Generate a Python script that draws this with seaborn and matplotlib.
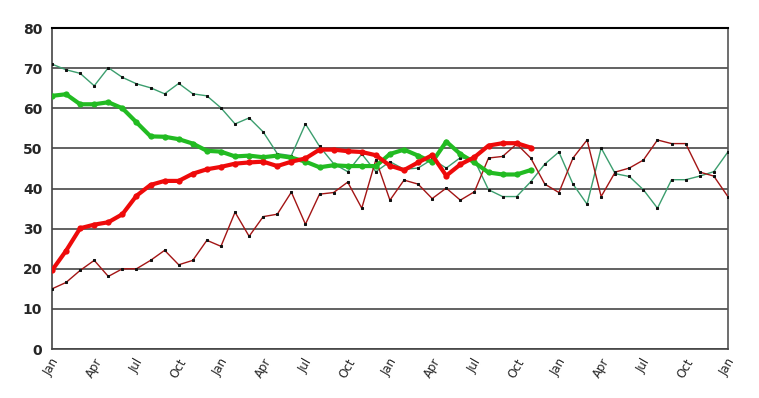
import matplotlib
matplotlib.use("Agg")
import matplotlib.pyplot as plt
import numpy as np
import pandas as pd
import seaborn as sns

# Monthly values, Jan of year 1 through Jan of year 5
green_monthly = [71, 69.6, 68.7, 65.6, 70.1, 67.7, 66.1, 65.1, 63.6, 66.2, 63.6, 63.1,
                 60.1, 56.1, 57.6, 54.1, 48.7, 48.2, 56.1, 50.5, 46.2, 44.2, 48.6, 44.2,
                 46.7, 44.8, 45.1, 47.3, 45.1, 47.7, 47.1, 39.7, 38.0, 38.0, 41.7, 46.1,
                 49.1, 41.1, 36.1, 50.1, 43.7, 43.0, 39.7, 35.1, 42.2, 42.2, 43.1, 44.2, 49.1]
red_monthly = [15.0, 16.6, 19.6, 22.1, 18.1, 20.0, 20.0, 22.1, 24.6, 21.0, 22.1, 27.1,
               25.6, 34.1, 28.1, 33.0, 33.6, 39.1, 31.1, 38.6, 39.0, 41.6, 35.1, 47.2,
               37.1, 42.1, 41.1, 37.5, 40.1, 37.1, 39.2, 47.6, 48.0, 51.1, 47.6, 41.1,
               39.0, 47.6, 52.1, 38.0, 44.1, 45.1, 47.1, 52.1, 51.2, 51.2, 44.1, 43.1, 38.0]

# Smoothed series, Jan of year 1 through Nov of year 3
green_smooth = [63.1, 63.5, 61.0, 61.0, 61.5, 60.0, 56.5, 53.0, 52.9, 52.3, 51.2, 49.4,
                49.2, 48.0, 48.2, 47.8, 48.2, 47.7, 46.7, 45.3, 45.8, 45.6, 45.6, 45.6,
                48.6, 49.7, 48.2, 46.6, 51.7, 48.6, 46.5, 44.0, 43.5, 43.5, 44.6]
red_smooth = [19.6, 24.5, 30.1, 31.0, 31.6, 33.6, 38.2, 40.9, 41.9, 41.9, 43.7, 44.8,
              45.4, 46.2, 46.5, 46.7, 45.6, 46.7, 47.5, 49.7, 49.7, 49.3, 49.1, 48.3,
              45.7, 44.6, 46.5, 48.3, 43.2, 46.0, 47.8, 50.7, 51.3, 51.3, 50.2]

tick_labels = ["Jan", "Apr", "Jul", "Oct"] * 4 + ["Jan"]

monthly = pd.DataFrame({"month": np.arange(len(green_monthly)),
                        "green": green_monthly, "red": red_monthly})
smooth = pd.DataFrame({"month": np.arange(len(green_smooth)),
                       "green": green_smooth, "red": red_smooth})

sns.set_style("white")
plt.rcParams["font.family"] = ["DejaVu Sans"]

fig = plt.figure(figsize=(7.59, 3.98), dpi=100)
ax = fig.add_axes([0.0685, 0.123, 0.8905, 0.8066])

# Thin monthly lines
sns.lineplot(data=monthly, x="month", y="green", ax=ax, color="#3c9e6e", linewidth=1,
             marker="s", markersize=1.8, markerfacecolor="#111111",
             markeredgecolor="#111111", zorder=3)
sns.lineplot(data=monthly, x="month", y="red", ax=ax, color="#a31515", linewidth=1,
             marker="s", markersize=1.8, markerfacecolor="#111111",
             markeredgecolor="#111111", zorder=3)

# Thick smoothed lines
sns.lineplot(data=smooth, x="month", y="green", ax=ax, color="#22bb22", linewidth=3,
             marker="o", markersize=4.5, markeredgewidth=0, zorder=4)
sns.lineplot(data=smooth, x="month", y="red", ax=ax, color="#ee0a0a", linewidth=3,
             marker="o", markersize=4.5, markeredgewidth=0, zorder=5)

ax.set_xlim(0, len(green_monthly) - 1)
ax.set_ylim(0, 80)
ax.set_xlabel("")
ax.set_ylabel("")

ax.set_xticks(np.arange(0, len(green_monthly), 3))
ax.set_xticklabels(tick_labels, rotation=60, fontsize=8.5)
ax.set_yticks(np.arange(0, 81, 10))
ax.set_yticks(np.arange(5, 80, 10), minor=True)
for lab in ax.get_yticklabels():
    lab.set_fontweight("bold")
    lab.set_fontsize(10)

ax.yaxis.grid(True, color="#555555", linewidth=1.3)
ax.set_axisbelow(True)
ax.tick_params(axis="x", direction="inout", length=6, color="#aaaaaa", pad=2)
ax.tick_params(axis="y", which="major", direction="out", length=3, color="#555555", pad=4)
ax.tick_params(axis="y", which="minor", direction="out", length=3, color="#cccccc")

for side in ["left", "bottom"]:
    ax.spines[side].set_color("#444444")
    ax.spines[side].set_linewidth(1.2)
ax.spines["right"].set_color("#555555")
ax.spines["right"].set_linewidth(1.2)
ax.spines["top"].set_color("black")
ax.spines["top"].set_linewidth(1.5)

fig.savefig("out.png", dpi=100)
